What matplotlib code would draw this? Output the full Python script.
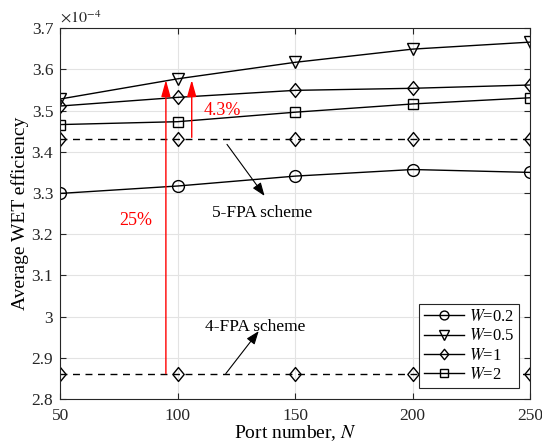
import matplotlib
matplotlib.use("Agg")
import matplotlib.pyplot as plt
from matplotlib.ticker import FuncFormatter
from matplotlib.path import Path

plt.rcParams["font.family"] = ["Liberation Serif", "DejaVu Serif"]
plt.rcParams["mathtext.fontset"] = "stix"

# data (values in units of 1e-4)
ports = [50, 100, 150, 200, 250]
w_02 = [3.299, 3.317, 3.341, 3.357, 3.350]
w_05 = [3.528, 3.577, 3.617, 3.649, 3.666]
w_1 = [3.511, 3.532, 3.549, 3.554, 3.562]
w_2 = [3.466, 3.473, 3.496, 3.516, 3.531]
fpa5 = [3.43, 3.43, 3.43, 3.43, 3.43]
fpa4 = [2.862, 2.862, 2.862, 2.862, 2.862]

# matlab-like diamond, a bit taller than wide
diamond = Path([(0, 1), (0.82, 0), (0, -1), (-0.82, 0), (0, 1)],
               [Path.MOVETO, Path.LINETO, Path.LINETO, Path.LINETO, Path.CLOSEPOLY])

fig = plt.figure(figsize=(5.42, 4.46), dpi=100)
ax = fig.add_axes([0.111, 0.105, 0.867, 0.832])

mk = dict(color="black", lw=1.0, mfc="none", mew=1.0)
ax.plot(ports, w_02, marker="o", ms=8.5, label=r"$W$=0.2", **mk)
ax.plot(ports, w_05, marker="v", ms=9, label=r"$W$=0.5", **mk)
ax.plot(ports, w_1, marker=diamond, ms=10, label=r"$W$=1", **mk)
ax.plot(ports, w_2, marker="s", ms=7, label=r"$W$=2", **mk)
ax.plot(ports, fpa5, marker=diamond, ms=10, ls=(0, (5, 4)), **mk)
ax.plot(ports, fpa4, marker=diamond, ms=10, ls=(0, (5, 4)), **mk)

# red gain arrows
ax.annotate("", xy=(95, 3.574), xytext=(95, 2.862),
            arrowprops=dict(arrowstyle="-|>,head_length=1.0,head_width=0.28",
                            color="red", lw=1.0, shrinkA=0, shrinkB=0))
ax.annotate("", xy=(106, 3.574), xytext=(106, 3.435),
            arrowprops=dict(arrowstyle="-|>,head_length=1.0,head_width=0.28",
                            color="red", lw=1.0, shrinkA=0, shrinkB=0))
ax.text(111, 3.501, "4.3%", color="red", fontsize=13, va="center")
ax.text(75, 3.233, "25%", color="red", fontsize=13, va="center")

# scheme labels
ax.annotate("", xy=(137, 3.293), xytext=(121, 3.418),
            arrowprops=dict(arrowstyle="-|>,head_length=0.8,head_width=0.3",
                            color="black", lw=0.8, shrinkA=0, shrinkB=0))
ax.text(114.5, 3.251, "5-FPA scheme", fontsize=12.5, va="center")
ax.annotate("", xy=(134.5, 2.965), xytext=(120.5, 2.862),
            arrowprops=dict(arrowstyle="-|>,head_length=0.8,head_width=0.3",
                            color="black", lw=0.8, shrinkA=0, shrinkB=0))
ax.text(111.5, 2.975, "4-FPA scheme", fontsize=12.5, va="center")

ax.set_xlim(50, 250)
ax.set_ylim(2.8, 3.7)
ax.set_xticks(ports)
ax.set_yticks([2.8, 2.9, 3.0, 3.1, 3.2, 3.3, 3.4, 3.5, 3.6, 3.7])
ax.yaxis.set_major_formatter(FuncFormatter(lambda v, p: "%g" % round(v, 2)))
ax.tick_params(direction="in", top=True, right=True, labelsize=12.5,
               colors="#262626", length=4)
ax.tick_params(axis="x", pad=6)
ax.tick_params(axis="y", pad=5)
ax.grid(True, color="#e3e3e3", lw=0.8)
ax.set_axisbelow(True)
for s in ax.spines.values():
    s.set_color("#262626")
    s.set_linewidth(0.8)

ax.set_xlabel(r"Port number, $N$", fontsize=14, labelpad=0)
ax.set_ylabel("Average WET efficiency", fontsize=14, labelpad=2)
ax.text(0.0, 1.005, r"$\times10^{-4}$", transform=ax.transAxes,
        fontsize=11.5, va="bottom", ha="left", color="#262626")

leg = ax.legend(loc="lower right", fontsize=12, frameon=True, fancybox=False,
                edgecolor="#262626", framealpha=1, handlelength=2.4,
                borderpad=0.3, labelspacing=0.2, handletextpad=0.3,
                borderaxespad=0, markerscale=0.75,
                bbox_to_anchor=(0.977, 0.03))
leg.get_frame().set_linewidth(0.8)

fig.savefig("out.png", dpi=100)
